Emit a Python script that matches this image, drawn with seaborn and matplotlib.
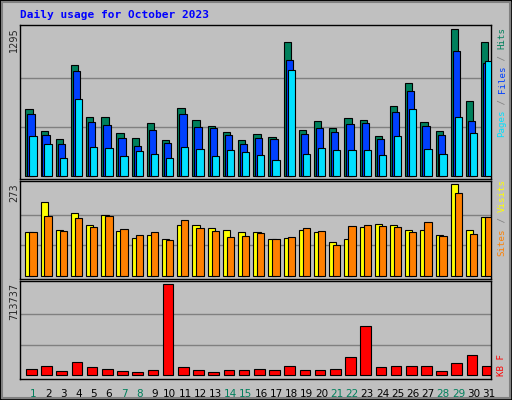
import matplotlib
matplotlib.use("Agg")
import matplotlib.pyplot as plt
import seaborn as sns
import numpy as np

sns.set_style("white")
plt.rcParams['font.family'] = ['DejaVu Sans']

days = list(range(1, 32))
hits = [587,394,323,975,517,517,376,332,464,314,596,490,438,385,314,367,341,1178,402,482,420,508,490,350,614,816,473,394,1295,658,1178]
files = [543,358,279,925,473,446,332,261,402,288,543,429,420,358,279,332,323,1019,367,420,385,455,464,323,561,746,438,358,1098,482,993]
pages = [350,279,156,676,253,244,173,217,191,156,253,235,173,226,209,182,138,931,191,244,226,226,226,182,350,587,235,191,517,376,1010]
visits = [131,219,136,187,151,181,133,112,121,109,151,151,142,136,130,130,109,112,136,130,100,109,145,154,151,136,136,121,273,136,175]
sites = [131,178,133,172,145,178,139,121,130,106,166,142,133,115,118,127,109,115,142,133,91,148,151,148,145,130,160,118,246,124,175]
kbytes = [47000,71000,31000,102000,63000,47000,31000,24000,39000,713737,63000,39000,24000,39000,39000,47000,39000,71000,39000,39000,47000,141000,384000,63000,71000,71000,71000,31000,94000,157000,71000]
weekends = [1,7,8,14,15,21,22,28,29]

BG = "#C0C0C0"
W, H = 512, 400
fig = plt.figure(figsize=(5.12, 4.0), dpi=100, facecolor=BG)

def ax_at(top, bottom):
    return fig.add_axes([20/W, 1-bottom/H, 471/W, (bottom-top)/H])

x = np.array(days, dtype=float)
kw = dict(edgecolor="black", linewidth=0.8, align="edge")

def style(ax, ylo, yhi, vmax):
    ax.set_facecolor(BG)
    ax.set_xlim(0.5, 31.5)
    ax.set_ylim(ylo, yhi)
    ax.set_xticks([]); ax.set_yticks([])
    for v in (vmax/3, 2*vmax/3):
        ax.axhline(v, color="#808080", lw=1, zorder=0)
    for s in ax.spines.values():
        s.set_color("black"); s.set_linewidth(1)

a1 = ax_at(25, 179)
style(a1, -26.4, 1330, 1295)
a1.bar(x-0.15, hits, 0.48, color="#00805C", zorder=2, **kw)
a1.bar(x-0.02, files, 0.48, color="#0040FF", zorder=3, **kw)
a1.bar(x+0.11, pages, 0.48, color="#00E0FF", zorder=4, **kw)

a2 = ax_at(181, 279)
style(a2, -8.9, 281.9, 273)
a2.bar(x-0.15, visits, 0.48, color="#FFFF00", zorder=2, **kw)
a2.bar(x+0.11, sites, 0.48, color="#FF8000", zorder=3, **kw)

a3 = ax_at(281, 379)
style(a3, -31400, 737300, 713737)
a3.bar(x-0.1, kbytes, 0.7, color="#FF0000", zorder=2, **kw)

for d in days:
    a3.text(d+0.36, -0.1, str(d), transform=a3.get_xaxis_transform(),
            ha="center", va="top", fontsize=7.5,
            color="#00805C" if d in weekends else "black")

def ftext(px, py, s, **k):
    fig.text(px/W, 1-py/H, s, **k)

ftext(20, 15, "Daily usage for October 2023", color="#0000FF",
      fontsize=8, fontweight="bold", family="DejaVu Sans Mono", va="center")

for py, s in [(27, "1295"), (183, "273"), (283, "713737")]:
    ftext(14, py, s, rotation=90, ha="center", va="top", fontsize=7)

def legend(ybottom, pieces):
    y = ybottom
    for s, c in pieces:
        ftext(502, y, s, rotation=90, ha="center", va="bottom",
              fontsize=6.6, family="DejaVu Sans Mono", color=c)
        y -= 5.5*len(s)

G = "#808080"
legend(137, [("Pages", "#00E0FF"), (" / ", G), ("Files", "#0040FF"), (" / ", G), ("Hits", "#00805C")])
legend(256, [("Sites", "#FF8000"), (" / ", G), ("Visits", "#FFFF00")])
legend(376, [("KB F", "#FF0000")])

# outer border
from matplotlib.patches import Rectangle
fig.patches.append(Rectangle((0, 0), 1, 1, transform=fig.transFigure,
                             fill=False, edgecolor="black", lw=2))
fig.patches.append(Rectangle((2/W, 2/H), 1-4/W, 1-4/H, transform=fig.transFigure,
                             fill=False, edgecolor="#808080", lw=1.5))

fig.savefig("out.png", dpi=100, facecolor=BG)
